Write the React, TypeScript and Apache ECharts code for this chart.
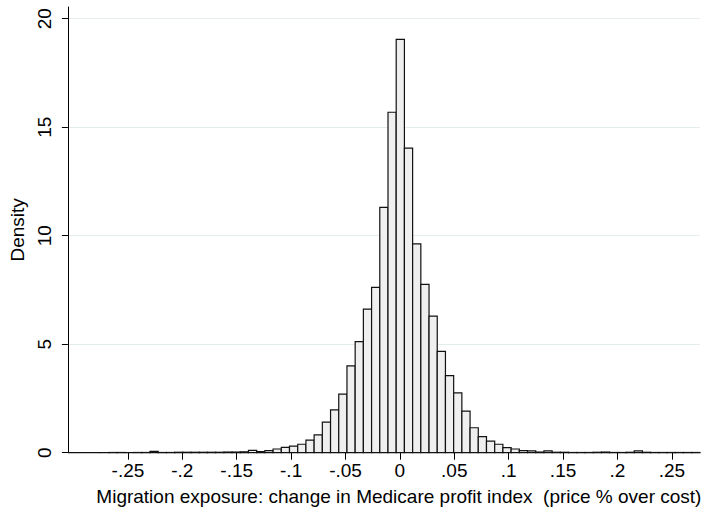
import React, { useEffect, useRef } from "react";
import * as echarts from "echarts";

// Histogram bins: start of first bin and common bin width (data units)
const binStart = -0.3052;
const binWidth = 0.007545;

// Density of each bin, left to right (77 bins)
const density = [
  0, 0, 0, 0, 0.01, 0.01, 0.01, 0, 0.01, 0.01,
  0.06, 0.01, 0.01, 0.02, 0.02, 0.02, 0.02, 0.02, 0.02, 0.03,
  0.03, 0.04, 0.11, 0.05, 0.1, 0.17, 0.25, 0.3, 0.39, 0.58,
  0.82, 1.41, 1.97, 2.7, 4.0, 5.12, 6.62, 7.62, 11.31, 15.69,
  19.05, 14.04, 9.62, 7.76, 6.29, 4.67, 3.55, 2.76, 1.92, 1.15,
  0.74, 0.53, 0.39, 0.23, 0.17, 0.1, 0.08, 0.03, 0.08, 0.02,
  0.02, 0.01, 0.01, 0.01, 0.02, 0.03, 0.01, 0.01, 0.02, 0.08,
  0.02, 0.01, 0.01, 0.01, 0.01, 0.01, 0.01,
];

const xTicks = [-0.25, -0.2, -0.15, -0.1, -0.05, 0, 0.05, 0.1, 0.15, 0.2, 0.25];
const xTickLabels = ["-.25", "-.2", "-.15", "-.1", "-.05", "0", ".05", ".1", ".15", ".2", ".25"];
const yTicks = [0, 5, 10, 15, 20];
const yMax = 20.54;

const xTitle = "Migration exposure: change in Medicare profit index  (price % over cost)";
const yTitle = "Density";

const FONT = "Liberation Sans, Arial, Helvetica, sans-serif";

export default function App() {
  const ref = useRef<HTMLDivElement>(null);

  useEffect(() => {
    if (!ref.current) return;
    const chart = echarts.init(ref.current, undefined, { renderer: "svg" });
    const data = density.map((d, i) => [
      binStart + i * binWidth,
      binStart + (i + 1) * binWidth,
      d,
    ]);
    const xMax = binStart + density.length * binWidth;

    chart.setOption({
      animation: false,
      backgroundColor: "#ffffff",
      textStyle: { fontFamily: FONT },
      grid: { left: 63, right: 1, top: 7, bottom: 59.3, containLabel: false },
      xAxis: {
        type: "value",
        min: binStart,
        max: xMax,
        axisLine: { show: true, onZero: false, lineStyle: { color: "#000", width: 1 } },
        axisTick: { show: true, customValues: xTicks, length: 7, lineStyle: { color: "#000", width: 1 } },
        axisLabel: {
          customValues: xTicks,
          fontSize: 19,
          color: "#000",
          fontFamily: FONT,
          margin: 8,
          formatter: (v: number) => {
            const idx = xTicks.findIndex((t) => Math.abs(t - v) < 1e-6);
            return idx >= 0 ? xTickLabels[idx] : "";
          },
        },
        splitLine: { show: false },
        name: xTitle,
        nameLocation: "middle",
        nameGap: 34,
        nameTextStyle: { fontSize: 19, color: "#000", fontFamily: FONT, padding: [0, 0, 0, 30] },
      },
      yAxis: {
        type: "value",
        min: 0,
        max: yMax,
        axisLine: { show: true, onZero: false, lineStyle: { color: "#000", width: 1 } },
        axisTick: { show: true, customValues: yTicks, length: 6, lineStyle: { color: "#000", width: 1 } },
        axisLabel: {
          customValues: yTicks,
          rotate: 90,
          fontSize: 19,
          color: "#000",
          fontFamily: FONT,
          margin: 14,
        },
        splitLine: { show: true, lineStyle: { color: "#e4ecee", width: 1 } },
        name: yTitle,
        nameLocation: "middle",
        nameGap: 35,
        nameTextStyle: { fontSize: 19, color: "#000", fontFamily: FONT },
      },
      series: [
        {
          type: "custom",
          data,
          encode: { x: [0, 1], y: 2 },
          renderItem: (params: any, api: any) => {
            const x0 = api.value(0);
            const x1 = api.value(1);
            const h = api.value(2);
            const p0 = api.coord([x0, h]);
            const p1 = api.coord([x1, 0]);
            return {
              type: "rect",
              shape: { x: p0[0], y: p0[1], width: p1[0] - p0[0], height: p1[1] - p0[1] },
              style: { fill: "#efefef", stroke: "#111111", lineWidth: 1.2 },
            };
          },
        },
      ],
    });

    return () => chart.dispose();
  }, []);

  return (
    <div
      ref={ref}
      style={{ position: "absolute", left: 0, top: 0, width: 702, height: 512, background: "#fff" }}
    />
  );
}
